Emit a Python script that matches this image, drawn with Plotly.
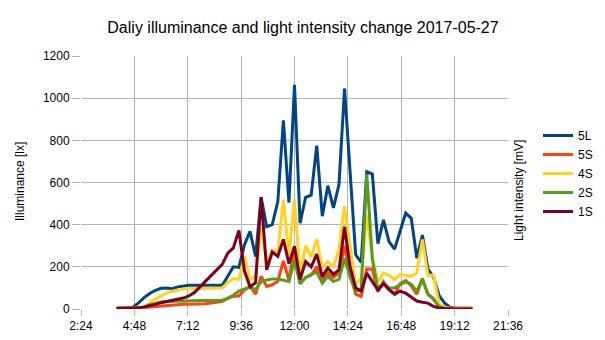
import plotly.graph_objects as go

times = ["4:00","4:15","4:30","4:45","5:00","5:15","5:30","5:45",
         "6:00","6:15","6:30","6:45","7:00","7:15","7:30","7:45",
         "8:00","8:15","8:30","8:45","9:00","9:15","9:30","9:45",
         "10:00","10:15","10:30","10:45","11:00","11:15","11:30","11:45",
         "12:00","12:15","12:30","12:45","13:00","13:15","13:30","13:45",
         "14:00","14:15","14:30","14:45","15:00","15:15","15:30","15:45",
         "16:00","16:15","16:30","16:45","17:00","17:15","17:30","17:45",
         "18:00","18:15","18:30","18:45","19:00","19:15","19:30","19:45",
         "20:00"]

s5L = [0,0,0,10,30,55,75,88,
       98,100,96,105,110,113,113,113,
       113,113,113,113,155,200,197,305,
       368,249,530,390,400,510,895,505,
       1063,407,530,540,775,440,585,480,
       590,1046,650,257,221,651,640,310,
       423,320,284,375,455,430,241,351,
       190,150,65,28,8,2,0,0,
       0]
s5S = [5,5,5,5,5,7,10,12,
       14,17,20,22,22,22,22,24,
       25,28,32,36,50,60,62,90,
       108,70,155,107,115,131,228,138,
       285,120,150,160,200,140,170,150,
       170,300,170,70,60,190,190,82,
       130,92,70,120,135,110,70,145,
       70,50,8,5,5,5,5,5,
       5]
s4S = [5,5,5,5,5,10,30,48,
       62,75,84,90,94,96,97,97,
       98,98,98,100,125,145,140,248,
       140,155,385,225,278,272,517,255,
       520,165,300,245,332,195,225,200,
       280,488,300,115,145,445,250,130,
       170,160,140,162,160,155,170,330,
       160,160,25,8,3,2,0,0,
       0]
s2S = [0,0,0,2,5,10,20,28,
       33,35,36,38,40,40,40,40,
       40,40,40,42,52,65,85,95,
       105,92,130,138,142,142,138,131,
       230,120,148,165,175,122,155,130,
       140,240,150,85,90,640,235,95,
       125,100,100,115,130,118,85,140,
       70,45,12,3,0,0,0,0,
       0]
s1S = [3,3,3,4,6,10,15,22,
       30,35,40,46,52,62,78,105,
       132,160,186,212,265,290,372,180,
       105,125,530,186,270,250,330,215,
       298,140,225,200,260,155,195,165,
       185,390,200,100,85,170,130,90,
       120,92,70,85,75,55,38,32,
       28,12,5,2,0,0,0,0,
       0]

tick_labels = ["2:24","4:48","7:12","9:36","12:00","14:24","16:48","19:12","21:36"]

def to_min(t):
    h, m = t.split(":")
    return int(h) * 60 + int(m)

x = [to_min(t) for t in times]
tick_vals = [to_min(t) for t in tick_labels]

series = [("5L", s5L, "#004586"), ("5S", s5S, "#ff420e"), ("4S", s4S, "#ffd320"),
          ("2S", s2S, "#579d1c"), ("1S", s1S, "#7e0021")]

fig = go.Figure()
for name, vals, col in series:
    fig.add_trace(go.Scatter(x=x, y=vals, name=name, mode="lines",
                             line=dict(color=col, width=3)))

W, H = 605, 340
ML, MR, MT, MB = 81, 97, 56, 31
pw, ph = W - ML - MR, H - MT - MB

def px(xp):
    return (xp - ML) / pw

def py(yp):
    return (H - MB - yp) / ph

font = "Liberation Sans, Arial, sans-serif"
grid = "#b3b3b3"
fig.update_layout(
    width=W, height=H,
    margin=dict(l=ML, r=MR, t=MT, b=MB, autoexpand=False),
    paper_bgcolor="white", plot_bgcolor="white",
    font=dict(family=font, size=12, color="black"),
    title=dict(text="Daliy illuminance and light intensity change 2017-05-27",
               x=303/W, xref="container", xanchor="center",
               y=1-27/H, yref="container", yanchor="middle",
               font=dict(size=16, color="black", family=font)),
    showlegend=True,
    legend=dict(x=px(538), xanchor="left", xref="paper",
                y=py(121), yref="paper", yanchor="top",
                font=dict(size=12, color="black"), itemwidth=30,
                bgcolor="rgba(0,0,0,0)", tracegroupgap=0),
    xaxis=dict(range=[144, 1296], tickvals=tick_vals, ticktext=tick_labels,
               showgrid=True, gridcolor=grid, gridwidth=1, zeroline=False,
               showline=False, ticks="outside", ticklen=6, tickcolor=grid,
               tickfont=dict(size=12, color="black")),
    yaxis=dict(range=[0, 1200], dtick=200, showgrid=True, gridcolor=grid,
               gridwidth=1, zeroline=False, showline=False, ticks="outside",
               ticklen=8, tickcolor=grid, tickfont=dict(size=12, color="black")),
    annotations=[
        dict(text="Illuminance [lx]", x=px(20), y=py(182), xref="paper", yref="paper",
             xanchor="center", yanchor="middle",
             showarrow=False, textangle=-90, font=dict(size=12, color="black")),
        dict(text="Light intensity [mV]", x=px(519), y=py(191), xref="paper", yref="paper",
             xanchor="center", yanchor="middle",
             showarrow=False, textangle=-90, font=dict(size=12, color="black")),
    ],
)

fig.write_html("out.html")
